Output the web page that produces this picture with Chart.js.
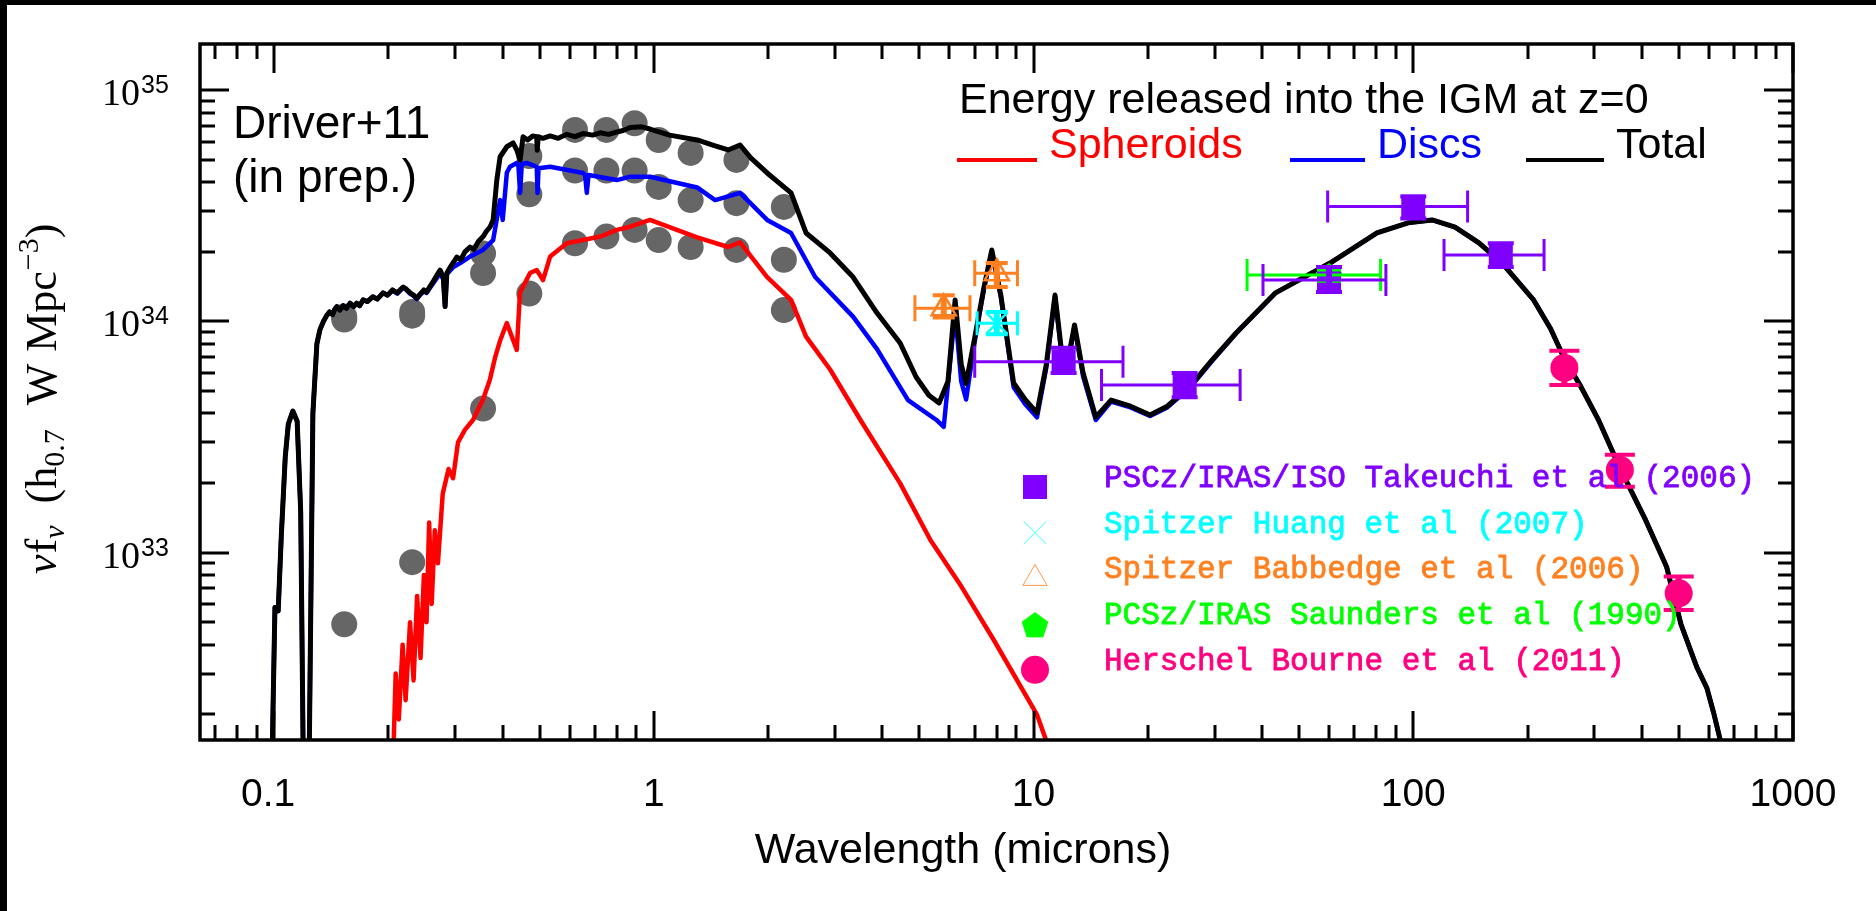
<!DOCTYPE html>
<html>
<head>
<meta charset="utf-8">
<title>Energy released into the IGM at z=0</title>
<script src="https://cdn.jsdelivr.net/npm/chart.js@4.4.1/dist/chart.umd.min.js"></script>
<style>
  html, body { margin: 0; padding: 0; background: #fff; }
  canvas { display: block; }
</style>
</head>
<body>
<canvas id="sedChart" width="1876" height="911"></canvas>
<script>
// Model spectra: wavelength in microns, nu f_nu in h0.7 W Mpc^-3
const totalWave = [0.0985, 0.1005, 0.1025, 0.1045, 0.107, 0.109, 0.112, 0.115, 0.1175, 0.1195, 0.1235, 0.1265,
  0.1296, 0.132, 0.1348, 0.1375, 0.140, 0.1425, 0.1445, 0.1463, 0.149, 0.152, 0.155, 0.1585, 0.162, 0.165,
  0.168, 0.1716, 0.176, 0.182, 0.187, 0.1936, 0.199, 0.205, 0.211, 0.2186, 0.223, 0.228, 0.233, 0.2376,
  0.242, 0.248, 0.252, 0.2575, 0.263, 0.268, 0.2736, 0.279, 0.282, 0.285, 0.293, 0.3028, 0.310, 0.318,
  0.3282, 0.336, 0.345, 0.3551, 0.362, 0.3706, 0.3774, 0.3859, 0.3937, 0.4101, 0.426, 0.4356, 0.4444, 0.4525,
  0.465, 0.48, 0.4916, 0.493, 0.496, 0.51, 0.5332, 0.56, 0.5899, 0.62, 0.6512, 0.69, 0.722, 0.76, 0.799,
  0.83, 0.866, 0.93, 0.977, 1.10, 1.30, 1.45, 1.569, 1.687, 1.80, 1.988, 2.298, 2.517, 2.912, 3.347, 3.871,
  4.452, 4.905, 5.30, 5.64, 5.95, 6.215, 6.45, 6.643, 7.0, 7.4, 7.763, 8.2, 8.861, 9.5, 10.21, 10.8, 11.39,
  11.9, 12.3, 12.82, 13.5, 14.58, 16.0, 18.0, 20.27, 22.5, 25.76, 29.5, 34.15, 43.38, 60.37, 80.25, 96.9,
  112.1, 128.8, 148.9, 171.3, 207.4, 230, 250, 275, 307.5, 352, 409, 464.5, 507, 558, 593, 618, 660];
const totalFlux = [1.0e32, 5.8e32, 5.6e32, 1.2e33, 2.6e33, 3.6e33, 4.1e33, 3.7e33, 1.5e33, 1.0e32, 1.0e32, 4.0e33,
  8.0e33, 9.2e33, 1.0e34, 1.06e34, 1.1e34, 1.07e34, 1.13e34, 1.16e34, 1.12e34, 1.17e34, 1.14e34, 1.2e34, 1.16e34, 1.2e34,
  1.17e34, 1.24e34, 1.22e34, 1.28e34, 1.25e34, 1.33e34, 1.3e34, 1.37e34, 1.33e34, 1.41e34, 1.38e34, 1.33e34, 1.3e34, 1.26e34,
  1.31e34, 1.37e34, 1.34e34, 1.42e34, 1.5e34, 1.58e34, 1.67e34, 1.55e34, 1.16e34, 1.62e34, 1.75e34, 1.9e34, 1.85e34, 2.0e34,
  2.1e34, 2.05e34, 2.22e34, 2.33e34, 2.45e34, 2.57e34, 2.75e34, 4.09e34, 5.16e34, 5.7e34, 5.92e34, 5.52e34, 5.0e34, 6.3e34,
  6.1e34, 6.35e34, 6.3e34, 5.5e34, 6.3e34, 6.2e34, 6.35e34, 6.2e34, 6.45e34, 6.3e34, 6.5e34, 6.4e34, 6.55e34, 6.45e34, 6.6e34,
  6.7e34, 6.9e34, 6.95e34, 6.8e34, 6.4e34, 6.1e34, 5.75e34, 5.52e34, 5.8e34, 5.1e34, 4.39e34, 3.6e34, 2.415e34, 1.98e34, 1.557e34, 1.088e34,
  8.07e33, 5.75e33, 4.8e33, 4.44e33, 5.5e33, 1.24e34, 6.5e33, 5.4e33, 8.5e33, 1.4e34, 2.04e34, 1.3e34, 5.42e33, 4.6e33, 4.02e33, 6.5e33, 1.302e34,
  7.0e33, 6.7e33, 9.66e33, 6.0e33, 3.86e33, 4.57e33, 4.3e33, 3.94e33, 4.3e33, 5.21e33, 6.8e33, 8.92e33, 1.33e34, 1.79e34, 2.415e34, 2.67e34,
  2.75e34, 2.56e34, 2.19e34, 1.79e34, 1.24e34, 9.3e33, 6.9e33, 5.3e33, 3.75e33, 2.28e33, 1.385e33, 8.7e32, 4.9e32, 3.2e32, 2.6e32, 2.03e32, 1.3e32];

const discWave = [0.0985, 0.1005, 0.1025, 0.1045, 0.107, 0.109, 0.112, 0.115, 0.1175, 0.1195, 0.1235, 0.1265,
  0.1296, 0.132, 0.1348, 0.1375, 0.140, 0.1425, 0.1445, 0.1463, 0.149, 0.152, 0.155, 0.1585, 0.162, 0.165,
  0.168, 0.1716, 0.176, 0.182, 0.187, 0.1936, 0.199, 0.205, 0.211, 0.2186, 0.223, 0.228, 0.233, 0.2376,
  0.242, 0.248, 0.252, 0.2575, 0.263, 0.268, 0.2736, 0.279, 0.282, 0.285, 0.2965, 0.309, 0.328, 0.355,
  0.3774, 0.3937, 0.400, 0.4101, 0.418, 0.4356, 0.440, 0.4444, 0.449, 0.4627, 0.4916, 0.494, 0.497, 0.5332,
  0.6512, 0.659, 0.666, 0.673, 0.799, 0.866, 0.9775, 1.30, 1.45, 1.687, 1.988, 2.298, 2.66, 3.347, 3.871,
  4.67, 5.55, 5.80, 6.215, 6.45, 6.643, 7.0, 7.4, 7.763, 8.2, 8.861, 9.5, 10.21, 10.8, 11.39, 11.9, 12.3,
  12.82, 13.5, 14.58, 16.0, 18.0, 20.27, 22.5, 25.76, 29.5, 34.15, 43.38, 60.37, 80.25, 96.9, 112.1, 128.8,
  148.9, 171.3, 207.4, 230, 250, 275, 307.5, 352, 409, 464.5, 507, 558, 593, 618, 660];
const discFlux = [1.0e32, 5.8e32, 5.6e32, 1.2e33, 2.6e33, 3.6e33, 4.1e33, 3.7e33, 1.5e33, 1.0e32, 1.0e32, 4.0e33,
  8.0e33, 9.2e33, 1.0e34, 1.06e34, 1.1e34, 1.07e34, 1.13e34, 1.16e34, 1.12e34, 1.17e34, 1.14e34, 1.2e34, 1.16e34, 1.2e34,
  1.17e34, 1.24e34, 1.22e34, 1.28e34, 1.25e34, 1.33e34, 1.3e34, 1.36e34, 1.32e34, 1.4e34, 1.37e34, 1.32e34, 1.29e34, 1.25e34,
  1.3e34, 1.35e34, 1.33e34, 1.4e34, 1.47e34, 1.54e34, 1.62e34, 1.52e34, 1.16e34, 1.6e34, 1.72e34, 1.79e34, 1.91e34, 2.04e34,
  2.25e34, 3.35e34, 2.75e34, 4.4e34, 4.67e34, 4.85e34, 4.7e34, 3.6e34, 4.8e34, 4.85e34, 4.67e34, 3.6e34, 4.6e34, 4.67e34,
  4.39e34, 4.3e34, 3.6e34, 4.3e34, 4.09e34, 4.23e34, 4.23e34, 3.8e34, 3.35e34, 3.6e34, 2.75e34, 2.415e34, 1.557e34, 1.05e34, 7.6e33,
  4.57e33, 3.75e33, 3.5e33, 1.1e34, 5.5e33, 4.6e33, 8.2e33, 1.38e34, 2.0e34, 1.28e34, 5.2e33, 4.4e33, 3.85e33, 6.3e33, 1.28e34, 6.8e33, 6.5e33,
  9.5e33, 5.8e33, 3.75e33, 4.5e33, 4.25e33, 3.9e33, 4.25e33, 5.15e33, 6.75e33, 8.9e33, 1.33e34, 1.79e34, 2.415e34, 2.67e34, 2.75e34, 2.56e34,
  2.19e34, 1.79e34, 1.24e34, 9.3e33, 6.9e33, 5.3e33, 3.75e33, 2.28e33, 1.385e33, 8.7e32, 4.9e32, 3.2e32, 2.6e32, 2.03e32, 1.3e32];

const spheroidWave = [0.205, 0.209, 0.213, 0.218, 0.222, 0.228, 0.233, 0.238, 0.243, 0.248, 0.252, 0.256, 0.260,
  0.265, 0.270, 0.278, 0.288, 0.296, 0.305, 0.318, 0.334, 0.355, 0.370, 0.382, 0.394, 0.410, 0.4356, 0.444,
  0.472, 0.4916, 0.5107, 0.5332, 0.5899, 0.6512, 0.722, 0.799, 0.866, 0.977, 1.30, 1.569, 1.687, 1.988, 2.298,
  2.517, 2.912, 3.5, 4.45, 5.35, 6.47, 7.85, 10.2, 11.2];
const spheroidFlux = [1.0e32, 3.0e32, 1.9e32, 4.0e32, 2.3e32, 5.0e32, 2.8e32, 6.5e32, 3.5e32, 8.0e32, 5.0e32, 1.35e33, 6.0e32,
  1.25e33, 9.0e32, 1.8e33, 2.3e33, 2.1e33, 3.0e33, 3.4e33, 3.75e33, 4.6e33, 5.6e33, 7.0e33, 8.3e33, 9.85e33, 7.53e33, 1.33e34,
  1.62e34, 1.67e34, 1.51e34, 1.91e34, 2.18e34, 2.25e34, 2.33e34, 2.49e34, 2.57e34, 2.75e34, 2.31e34, 2.1e34, 2.2e34, 1.557e34, 1.24e34,
  8.6e33, 6.2e33, 3.75e33, 2.0e33, 1.135e33, 7.1e32, 4.2e32, 2.0e32, 1.3e32];

// Model photometry in the FUV, NUV, ugriz, YJHK bands
const bandWave = [0.153, 0.231, 0.355, 0.47, 0.62, 0.75, 0.89, 1.03, 1.25, 1.65, 2.2];
const bandTotal = [1.05e34, 1.1e34, 1.97e34, 5.2e34, 6.74e34, 6.74e34, 7.2e34, 6.1e34, 5.36e34, 5.0e34, 3.13e34];
const bandDisc = [1.02e34, 1.06e34, 1.62e34, 3.55e34, 4.5e34, 4.5e34, 4.5e34, 3.82e34, 3.35e34, 3.25e34, 1.85e34];
const bandSpheroid = [4.9e32, 9.1e32, 4.2e33, 1.32e34, 2.18e34, 2.33e34, 2.49e34, 2.25e34, 2.1e34, 2.04e34, 1.12e34];

// Measurements
const takeuchiWave = [12, 25, 60, 100, 170];
const takeuchiFlux = [6.7e33, 5.31e33, 1.51e34, 3.14e34, 1.94e34];
const takeuchiWaveLo = [7.0, 15.1, 40.2, 59.5, 120.5];
const takeuchiWaveHi = [17.2, 35.0, 84.7, 139, 221];
const takeuchiFluxLo = [5.98e33, 4.7e33, 1.34e34, 2.79e34, 1.72e34];
const takeuchiFluxHi = [7.7e33, 5.98e33, 1.72e34, 3.47e34, 2.18e34];

const huangWave = [8.0];
const huangFlux = [9.82e33];
const huangWaveLo = [7.1];
const huangWaveHi = [9.07];
const huangFluxLo = [8.8e33];
const huangFluxHi = [1.1e34];

const babbedgeWave = [5.8, 8.0];
const babbedgeFlux = [1.14e34, 1.617e34];
const babbedgeWaveLo = [4.87, 7.0];
const babbedgeWaveHi = [6.8, 9.07];
const babbedgeFluxLo = [1.04e34, 1.41e34];
const babbedgeFluxHi = [1.3e34, 1.79e34];

const saundersWave = [60];
const saundersFlux = [1.59e34];
const saundersWaveLo = [36.5];
const saundersWaveHi = [82];
const saundersFluxLo = [1.5e34];
const saundersFluxHi = [1.68e34];

const herschelWave = [250, 350, 500];
const herschelFlux = [6.3e33, 2.28e33, 6.67e32];
const herschelFluxLo = [5.31e33, 1.93e33, 5.65e32];
const herschelFluxHi = [7.48e33, 2.65e33, 7.88e32];

// Axes
const xMin = 0.0638, xMax = 1000;
const yMin = 1.548e32, yMax = 1.586e35;
const xTickValues = [0.1, 1, 10, 100, 1000];
const xTickLabels = ['0.1', '1', '10', '100', '1000'];
const yTickPowers = [33, 34, 35];

const legendEntries = [
  { text: 'PSCz/IRAS/ISO Takeuchi et al (2006)', color: '#8000ff', style: 'rect', radius: 17 },
  { text: 'Spitzer Huang et al (2007)', color: '#00ffff', style: 'crossRot', radius: 16 },
  { text: 'Spitzer Babbedge et al (2006)', color: '#ff8020', style: 'triangle', radius: 14 },
  { text: 'PCSz/IRAS Saunders et al (1990)', color: '#00ff00', style: 'pentagon', radius: 14 },
  { text: 'Herschel Bourne et al (2011)', color: '#ff0080', style: 'circle', radius: 14 }
];

const toPoints = (xs, ys) => xs.map((x, i) => ({ x: x, y: ys[i] }));

// filled pentagon used as a point style
function makePentagon(color, size) {
  const c = document.createElement('canvas');
  c.width = size;
  c.height = size;
  const g = c.getContext('2d');
  const r = size / 2;
  g.fillStyle = color;
  g.beginPath();
  for (let i = 0; i < 5; i++) {
    const a = -Math.PI / 2 + i * 2 * Math.PI / 5;
    const px = r + Math.cos(a) * r;
    const py = r + 2 + Math.sin(a) * r;
    if (i === 0) g.moveTo(px, py); else g.lineTo(px, py);
  }
  g.closePath();
  g.fill();
  return c;
}
const pentagon = makePentagon('#00ff00', 28);

const errorSets = [
  { color: '#00ff00', wave: saundersWave, flux: saundersFlux, waveLo: saundersWaveLo, waveHi: saundersWaveHi, fluxLo: saundersFluxLo, fluxHi: saundersFluxHi, capX: 16, capY: 12 },
  { color: '#ff8020', wave: babbedgeWave, flux: babbedgeFlux, waveLo: babbedgeWaveLo, waveHi: babbedgeWaveHi, fluxLo: babbedgeFluxLo, fluxHi: babbedgeFluxHi, capX: 13, capY: 11 },
  { color: '#00ffff', wave: huangWave, flux: huangFlux, waveLo: huangWaveLo, waveHi: huangWaveHi, fluxLo: huangFluxLo, fluxHi: huangFluxHi, capX: 12, capY: 11 },
  { color: '#8000ff', wave: takeuchiWave, flux: takeuchiFlux, waveLo: takeuchiWaveLo, waveHi: takeuchiWaveHi, fluxLo: takeuchiFluxLo, fluxHi: takeuchiFluxHi, capX: 16, capY: 13 },
  { color: '#ff0080', wave: herschelWave, flux: herschelFlux, fluxLo: herschelFluxLo, fluxHi: herschelFluxHi, capY: 15 }
];

function drawErrorBars(chart) {
  const { ctx, scales: { x, y } } = chart;
  ctx.save();
  ctx.lineCap = 'butt';
  errorSets.forEach(set => {
    ctx.strokeStyle = set.color;
    set.wave.forEach((w, i) => {
      const px = x.getPixelForValue(w);
      const py = y.getPixelForValue(set.flux[i]);
      ctx.lineWidth = 3;
      ctx.beginPath();
      if (set.waveLo) {
        const x0 = x.getPixelForValue(set.waveLo[i]);
        const x1 = x.getPixelForValue(set.waveHi[i]);
        ctx.moveTo(x0, py); ctx.lineTo(x1, py);
        ctx.moveTo(x0, py - set.capX); ctx.lineTo(x0, py + set.capX);
        ctx.moveTo(x1, py - set.capX); ctx.lineTo(x1, py + set.capX);
      }
      const y0 = y.getPixelForValue(set.fluxLo[i]);
      const y1 = y.getPixelForValue(set.fluxHi[i]);
      ctx.stroke();
      ctx.lineWidth = 4;
      ctx.beginPath();
      ctx.moveTo(px - set.capY, y0); ctx.lineTo(px + set.capY, y0);
      ctx.moveTo(px - set.capY, y1); ctx.lineTo(px + set.capY, y1);
      ctx.stroke();
      ctx.lineWidth = 6;
      ctx.beginPath();
      ctx.moveTo(px, y0); ctx.lineTo(px, y1);
      ctx.stroke();
    });
  });
  ctx.restore();
}

function drawMarker(ctx, entry, cx, cy) {
  ctx.save();
  ctx.fillStyle = entry.color;
  ctx.strokeStyle = entry.color;
  if (entry.style === 'pentagon') {
    ctx.drawImage(pentagon, cx - 14, cy - 14, 28, 28);
  } else if (Chart.helpers && Chart.helpers.drawPoint) {
    const hollow = entry.style === 'triangle' || entry.style === 'crossRot';
    if (hollow) ctx.fillStyle = 'rgba(0,0,0,0)';
    Chart.helpers.drawPoint(ctx, {
      pointStyle: entry.style, radius: entry.radius, rotation: 0,
      borderWidth: hollow ? 2.5 : 0
    }, cx, cy);
  }
  ctx.restore();
}

function drawAxes(chart) {
  const { ctx, chartArea: a, scales: { x, y } } = chart;
  ctx.save();
  ctx.strokeStyle = '#000';
  ctx.lineCap = 'butt';

  const xMinor = [];
  for (let d = 0.01; d < xMax; d *= 10) {
    for (let k = 2; k <= 9; k++) {
      const v = d * k;
      if (v > xMin && v < xMax) xMinor.push(v);
    }
  }
  const yMinor = [];
  for (let p = 32; p <= 35; p++) {
    for (let k = 2; k <= 9; k++) {
      const v = k * Math.pow(10, p);
      if (v > yMin && v < yMax) yMinor.push(v);
    }
  }

  ctx.lineWidth = 3;
  ctx.beginPath();
  xMinor.forEach(v => {
    const px = Math.round(x.getPixelForValue(v));
    ctx.moveTo(px, a.bottom); ctx.lineTo(px, a.bottom - 15);
    ctx.moveTo(px, a.top); ctx.lineTo(px, a.top + 15);
  });
  xTickValues.forEach(v => {
    const px = Math.round(x.getPixelForValue(v));
    ctx.moveTo(px, a.bottom); ctx.lineTo(px, a.bottom - 29);
    ctx.moveTo(px, a.top); ctx.lineTo(px, a.top + 29);
  });
  yMinor.forEach(v => {
    const py = Math.round(y.getPixelForValue(v));
    ctx.moveTo(a.left, py); ctx.lineTo(a.left + 15, py);
    ctx.moveTo(a.right, py); ctx.lineTo(a.right - 15, py);
  });
  yTickPowers.forEach(p => {
    const py = Math.round(y.getPixelForValue(Math.pow(10, p)));
    ctx.moveTo(a.left, py); ctx.lineTo(a.left + 29, py);
    ctx.moveTo(a.right, py); ctx.lineTo(a.right - 29, py);
  });
  ctx.stroke();

  ctx.lineWidth = 3.5;
  ctx.strokeRect(a.left, a.top, a.right - a.left, a.bottom - a.top);

  // tick labels
  ctx.fillStyle = '#000';
  ctx.textAlign = 'center';
  ctx.textBaseline = 'alphabetic';
  ctx.font = '39px "Liberation Sans", Arial, sans-serif';
  xTickValues.forEach((v, i) => {
    const nudge = i === 0 ? -6 : 0;
    ctx.fillText(xTickLabels[i], x.getPixelForValue(v) + nudge, 806);
  });
  yTickPowers.forEach(p => {
    const py = y.getPixelForValue(Math.pow(10, p));
    ctx.textAlign = 'right';
    ctx.font = '38px "Liberation Serif", "Times New Roman", serif';
    ctx.fillText('10', 140, py + 15);
    ctx.textAlign = 'left';
    ctx.font = '25px "Liberation Sans", Arial, sans-serif';
    ctx.fillText(String(p), 141, py + 3);
  });

  // axis titles
  ctx.textAlign = 'center';
  ctx.font = '43px "Liberation Sans", Arial, sans-serif';
  ctx.fillText('Wavelength (microns)', 963, 863);

  ctx.translate(56, 574);
  ctx.rotate(-Math.PI / 2);
  ctx.textAlign = 'left';
  let s = 0;
  const put = (txt, size, dy, gap, style) => {
    ctx.font = (style || '') + ' ' + size + 'px "Liberation Serif", "Times New Roman", serif';
    ctx.fillText(txt, s, dy);
    s += ctx.measureText(txt).width + (gap || 0);
  };
  put('\u03bd', 44, 0, 1, 'italic');
  put('f', 44, 0);
  put('\u03bd', 30, 8, 22, 'italic');
  put('(h', 44, 0);
  put('0.7', 30, 8, 24);
  put('W', 44, 0, 12);
  put('Mpc', 44, 0, 1);
  put('\u22123', 30, -18);
  put(')', 44, 0);
  ctx.restore();
}

function drawLabels(chart) {
  const ctx = chart.ctx;
  ctx.save();
  ctx.textAlign = 'left';
  ctx.textBaseline = 'alphabetic';

  ctx.fillStyle = '#000';
  ctx.font = '46px "Liberation Sans", Arial, sans-serif';
  ctx.fillText('Driver+11', 233, 138);
  ctx.fillText('(in prep.)', 233, 192);

  ctx.font = '43px "Liberation Sans", Arial, sans-serif';
  ctx.fillText('Energy released into the IGM at z=0', 959, 113);
  const keys = [
    { label: 'Spheroids', color: '#ff0000', x0: 957, x1: 1037, tx: 1049 },
    { label: 'Discs', color: '#0000ff', x0: 1290, x1: 1365, tx: 1377 },
    { label: 'Total', color: '#000000', x0: 1526, x1: 1604, tx: 1616 }
  ];
  keys.forEach(k => {
    ctx.strokeStyle = k.color;
    ctx.lineWidth = 4;
    ctx.beginPath();
    ctx.moveTo(k.x0, 160); ctx.lineTo(k.x1, 160);
    ctx.stroke();
    ctx.fillStyle = k.color;
    ctx.fillText(k.label, k.tx, 158);
  });

  ctx.font = '31px "Liberation Mono", "Courier New", monospace';
  ctx.lineWidth = 0.8;
  legendEntries.forEach((e, i) => {
    const base = 487 + i * 45.7;
    drawMarker(ctx, e, 1035, base);
    ctx.fillStyle = e.color;
    ctx.strokeStyle = e.color;
    ctx.fillText(e.text, 1104, base);
    ctx.strokeText(e.text, 1104, base);
  });
  ctx.restore();
}

const sedDecor = {
  id: 'sedDecor',
  beforeDraw(chart) {
    const ctx = chart.ctx;
    ctx.save();
    ctx.fillStyle = '#ffffff';
    ctx.fillRect(0, 0, chart.width, chart.height);
    ctx.fillStyle = '#000000';
    ctx.fillRect(0, 0, chart.width, 5);
    ctx.fillRect(0, 0, 7, chart.height);
    ctx.restore();
  },
  afterDatasetsDraw(chart) {
    drawErrorBars(chart);
  },
  afterDraw(chart) {
    drawAxes(chart);
    drawLabels(chart);
  }
};

const lineSet = (label, xs, ys, color, width) => ({
  label: label,
  data: toPoints(xs, ys),
  showLine: true,
  borderColor: color,
  borderWidth: width,
  borderJoinStyle: 'round',
  pointRadius: 0,
  fill: false,
  tension: 0
});

const dotSet = (label, ys) => ({
  label: label,
  data: toPoints(bandWave, ys),
  pointRadius: 13,
  pointBackgroundColor: '#666666',
  pointBorderWidth: 0
});

// first dataset is drawn on top
const datasets = [
  { label: 'Herschel Bourne et al (2011)', data: toPoints(herschelWave, herschelFlux),
    pointStyle: 'circle', pointRadius: 14, pointBackgroundColor: '#ff0080', pointBorderWidth: 0 },
  { label: 'PSCz/IRAS/ISO Takeuchi et al (2006)', data: toPoints(takeuchiWave, takeuchiFlux),
    pointStyle: 'rect', pointRadius: 17, pointBackgroundColor: '#8000ff', pointBorderWidth: 0 },
  { label: 'PCSz/IRAS Saunders et al (1990)', data: toPoints(saundersWave, saundersFlux),
    pointStyle: pentagon, pointRadius: 14 },
  { label: 'Spitzer Huang et al (2007)', data: toPoints(huangWave, huangFlux),
    pointStyle: 'crossRot', pointRadius: 15, pointBorderColor: '#00ffff', pointBorderWidth: 2.5 },
  { label: 'Spitzer Babbedge et al (2006)', data: toPoints(babbedgeWave, babbedgeFlux),
    pointStyle: 'triangle', pointRadius: 14, pointBackgroundColor: 'rgba(0,0,0,0)',
    pointBorderColor: '#ff8020', pointBorderWidth: 2.5 },
  lineSet('Total', totalWave, totalFlux, '#000000', 5),
  lineSet('Discs', discWave, discFlux, '#0000ff', 4.5),
  lineSet('Spheroids', spheroidWave, spheroidFlux, '#ff0000', 4.5),
  dotSet('Total photometry', bandTotal),
  dotSet('Disc photometry', bandDisc),
  dotSet('Spheroid photometry', bandSpheroid)
];

new Chart(document.getElementById('sedChart'), {
  type: 'scatter',
  data: { datasets: datasets },
  options: {
    responsive: false,
    animation: false,
    devicePixelRatio: 1,
    events: [],
    layout: { padding: { left: 200, right: 83, top: 44, bottom: 171 } },
    plugins: { legend: { display: false }, tooltip: { enabled: false } },
    scales: {
      x: { type: 'logarithmic', min: xMin, max: xMax, display: false },
      y: { type: 'logarithmic', min: yMin, max: yMax, display: false }
    }
  },
  plugins: [sedDecor]
});
</script>
</body>
</html>
